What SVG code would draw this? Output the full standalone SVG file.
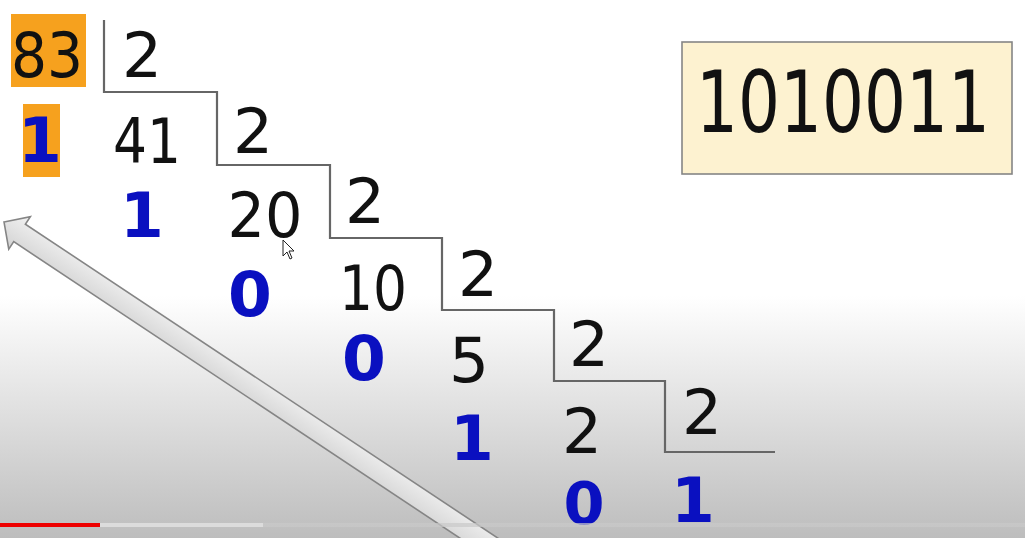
<svg xmlns="http://www.w3.org/2000/svg" width="1025" height="538" viewBox="0 0 1025 538">
<defs>
<linearGradient id="bg" x1="0" y1="0" x2="0" y2="1">
<stop offset="0" stop-color="#ffffff"/>
<stop offset="0.55" stop-color="#ffffff"/>
<stop offset="1" stop-color="#bdbdbd"/>
</linearGradient>
<linearGradient id="arr" x1="0" y1="0" x2="0" y2="1">
<stop offset="0" stop-color="#f2f2f2"/>
<stop offset="1" stop-color="#d2d2d2"/>
</linearGradient>
<style>
.k{font-family:"DejaVu Sans","Liberation Sans",sans-serif;font-size:63px;fill:#111;text-anchor:middle}
.b{font-family:"DejaVu Sans","Liberation Sans",sans-serif;font-size:63px;font-weight:bold;fill:#0a10c0;text-anchor:middle}
.st{fill:none;stroke:#666;stroke-width:2.2}
.hl{fill:#f6a11e}
</style>
</defs>
<rect x="0" y="0" width="1025" height="538" fill="url(#bg)"/>
<g id="arrow">
<polygon transform="translate(4,222) rotate(33.6)" points="0,0 19,-19 19,-10 620,-10 620,11 19,11 19,20" fill="url(#arr)" stroke="#858585" stroke-width="1.6"/>
</g>
<g id="connectors">
<polyline class="st" points="104,20 104,92 217,92 217,165 330,165 330,238 442,238 442,310 554,310 554,381 665,381 665,452 775,452"/>
</g>
<g id="n83"><rect class="hl" x="11" y="14" width="75" height="73"/><text class="k" x="47" y="77" textLength="72" lengthAdjust="spacingAndGlyphs">83</text></g>
<g id="d1"><text class="k" x="142" y="77">2</text></g>
<g id="r1"><rect class="hl" x="23" y="104" width="37" height="73"/><text class="b" x="40" y="162">1</text></g>
<g id="n41"><text class="k" x="147" y="163" textLength="68" lengthAdjust="spacingAndGlyphs">41</text></g>
<g id="d2"><text class="k" x="253" y="153">2</text></g>
<g id="r2"><text class="b" x="142" y="237">1</text></g>
<g id="n20"><text class="k" x="265" y="237" textLength="75" lengthAdjust="spacingAndGlyphs">20</text></g>
<g id="d3"><text class="k" x="365" y="223">2</text></g>
<g id="r3"><text class="b" x="250" y="316">0</text></g>
<g id="n10"><text class="k" x="373" y="310" textLength="68" lengthAdjust="spacingAndGlyphs">10</text></g>
<g id="d4"><text class="k" x="478" y="296">2</text></g>
<g id="r4"><text class="b" x="364" y="380">0</text></g>
<g id="n5"><text class="k" x="469" y="382">5</text></g>
<g id="d5"><text class="k" x="589" y="366">2</text></g>
<g id="r5"><text class="b" x="472" y="460">1</text></g>
<g id="n2"><text class="k" x="582" y="453">2</text></g>
<g id="d6"><text class="k" x="702" y="434">2</text></g>
<g id="r6"><text class="b" x="584" y="524" style="font-size:59px">0</text></g>
<g id="r7"><text class="b" x="693" y="522">1</text></g>
<g id="result">
<rect x="682" y="42" width="330" height="132" fill="#fdf2d0" stroke="#858585" stroke-width="1.6"/>
<text transform="translate(843,132) scale(1,1.3)" x="0" y="0" font-family="DejaVu Sans, Liberation Sans, sans-serif" font-size="66" fill="#111" text-anchor="middle">1010011</text>
</g>
<g id="cursor">
<path d="M283,240 L283,256 L287,252 L290,259 L292,258 L289,251 L294,251 Z" fill="#fff" stroke="#222" stroke-width="1"/>
</g>
<g id="progress">
<rect x="0" y="523" width="1025" height="4" fill="#c9c9c9" opacity="0.7"/>
<rect x="100" y="523" width="163" height="4" fill="#dcdcdc"/>
<rect x="0" y="523" width="100" height="4" fill="#ee0000"/>
</g>
</svg>
